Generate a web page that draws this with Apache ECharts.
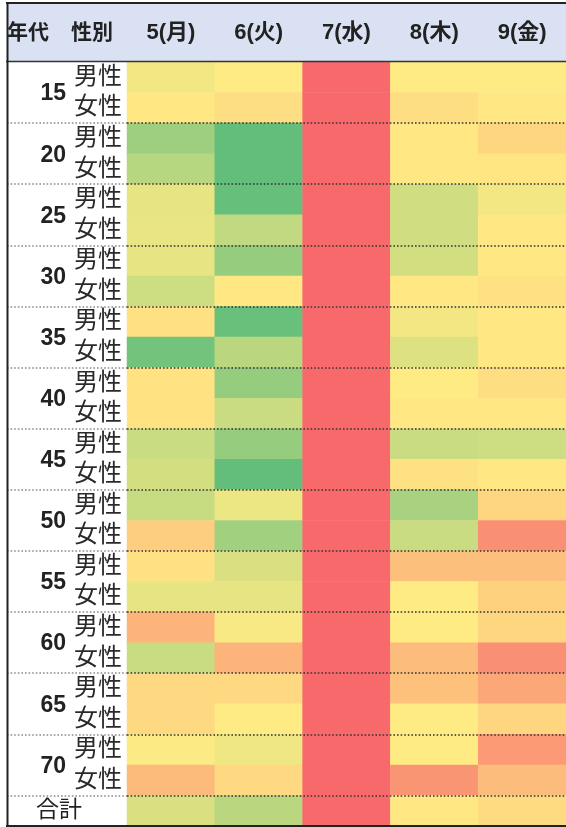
<!DOCTYPE html>
<html>
<head>
<meta charset="utf-8">
<script src="https://cdn.jsdelivr.net/npm/echarts@6/dist/echarts.min.js"></script>
<style>
  html, body { margin: 0; padding: 0; background: #fff; }
  #chart { width: 566px; height: 827px; }
</style>
</head>
<body>
<div id="chart"></div>
<script>
// Column headers (days) and row headers
const headerNames = ['年代', '性別'];
const days = ['5(月)', '6(火)', '7(水)', '8(木)', '9(金)'];
const ages = ['15', '20', '25', '30', '35', '40', '45', '50', '55', '60', '65', '70'];
const sexes = ['男性', '女性'];
const totalLabel = '合計';

// Scores per row: 15男, 15女, 20男, 20女, ... 70男, 70女, 合計
const mon = [46, 51, 19, 27, 42, 43, 42, 34, 54, 5, 53, 53, 33, 36, 32, 61, 54, 42, 71, 33, 57, 57, 49, 69, 38];
const tue = [50, 55, 0, 0, 1, 30, 16, 51, 2, 28, 16, 33, 16, 0, 44, 20, 38, 42, 48, 71, 57, 50, 45, 57, 28];
const wed = [100, 100, 100, 100, 100, 100, 100, 100, 100, 100, 100, 100, 100, 100, 100, 100, 100, 100, 100, 100, 100, 100, 100, 100, 100];
const thu = [50, 55, 51, 51, 35, 35, 36, 51, 46, 39, 50, 51, 33, 54, 22, 33, 67, 50, 50, 68, 66, 50, 50, 83, 51];
const fri = [50, 51, 58, 52, 46, 51, 51, 54, 51, 51, 55, 51, 34, 51, 58, 85, 67, 60, 58, 85, 76, 58, 81, 68, 56];

const columns = [mon, tue, wed, thu, fri];

// Row labels: 男性 / 女性 for each age band, blank for the total row
const rowLabels = [];
ages.forEach(() => sexes.forEach(s => rowLabels.push(s)));
rowLabels.push('');

const cells = [];
columns.forEach((col, xi) => col.forEach((v, yi) => cells.push([xi, yi, v])));

const FONT = "'Liberation Sans', 'Noto Sans CJK JP', sans-serif";
const TOP = 62, H = 764, LEFT = 127, COLW = 443.5;

const chart = echarts.init(document.getElementById('chart'), null, { renderer: 'canvas' });
chart.setOption({
  backgroundColor: '#fff',
  animation: false,
  grid: [
    { left: LEFT, top: TOP, width: COLW, height: H },
    { left: 7, top: TOP, width: LEFT - 7, height: H }
  ],
  xAxis: [
    {
      type: 'category', gridIndex: 0, data: days, position: 'top',
      axisLine: { show: false }, axisTick: { show: false }, splitLine: { show: false },
      axisLabel: { interval: 0, margin: 29, verticalAlign: 'middle', fontSize: 22, fontWeight: 'bold', color: '#222', fontFamily: FONT }
    },
    { type: 'category', gridIndex: 1, data: [''], show: false }
  ],
  yAxis: [
    {
      type: 'category', gridIndex: 0, data: rowLabels, inverse: true, z: 5,
      axisLine: { show: false }, axisTick: { show: false },
      axisLabel: { interval: 0, margin: 5, fontSize: 24, color: '#2a2a2a', fontFamily: FONT },
      splitLine: {
        show: true,
        interval: (idx) => idx > 0 && idx % 2 === 0,
        lineStyle: { color: '#333', width: 1.6, type: [1.6, 2] }
      }
    },
    {
      type: 'value', gridIndex: 0, min: 0, max: 25, interval: 0.5, inverse: true, position: 'left',
      axisLine: { show: false }, axisTick: { show: false }, splitLine: { show: false },
      axisLabel: {
        margin: 45,
        formatter: (v) => {
          if (v === 24.5) return '{tot|' + totalLabel + '}';
          if (Number.isInteger(v) && v % 2 === 1 && v < 24) return '{age|' + ages[(v - 1) / 2] + '}';
          return '';
        },
        rich: {
          age: { fontSize: 23, fontWeight: 'bold', color: '#222', fontFamily: FONT, padding: [3, 16, 0, 0] },
          tot: { fontSize: 23, color: '#222', fontFamily: FONT }
        }
      }
    },
    {
      type: 'category', gridIndex: 1, data: rowLabels, inverse: true, z: 5,
      axisLine: { show: false }, axisTick: { show: false }, axisLabel: { show: false },
      splitLine: {
        show: true,
        interval: (idx) => idx > 0 && idx % 2 === 0,
        lineStyle: { color: '#8a8a8a', width: 1.6, type: [1.6, 2] }
      }
    }
  ],
  visualMap: {
    type: 'continuous', min: 0, max: 100, show: false, seriesIndex: 0,
    inRange: { color: ['#63BE7B', '#FFEB84', '#F8696B'] }
  },
  series: [{
    type: 'heatmap', xAxisIndex: 0, yAxisIndex: 0, data: cells,
    itemStyle: { borderWidth: 0 },
    emphasis: { disabled: true }
  }],
  graphic: [
    { type: 'rect', z: -10, shape: { x: 7, y: 3, width: 570, height: 58 }, style: { fill: '#D9E1F2' } },
    { type: 'text', z: 10, x: 7, y: 33, style: { text: headerNames[0], fill: '#222', font: 'bold 21px ' + FONT, verticalAlign: 'middle' } },
    { type: 'text', z: 10, x: 71, y: 33, style: { text: headerNames[1], fill: '#222', font: 'bold 21px ' + FONT, verticalAlign: 'middle' } },
    { type: 'line', z: 20, shape: { x1: 6, y1: 3, x2: 570, y2: 3 }, style: { stroke: '#222', lineWidth: 2 } },
    { type: 'line', z: 20, shape: { x1: 6, y1: 61.5, x2: 570, y2: 61.5 }, style: { stroke: '#333', lineWidth: 1.5 } },
    { type: 'line', z: 20, shape: { x1: 7.5, y1: 2, x2: 7.5, y2: 827 }, style: { stroke: '#222', lineWidth: 2 } },
    { type: 'line', z: 20, shape: { x1: 6, y1: 826, x2: 570, y2: 826 }, style: { stroke: '#222', lineWidth: 2 } }
  ]
});
</script>
</body>
</html>
